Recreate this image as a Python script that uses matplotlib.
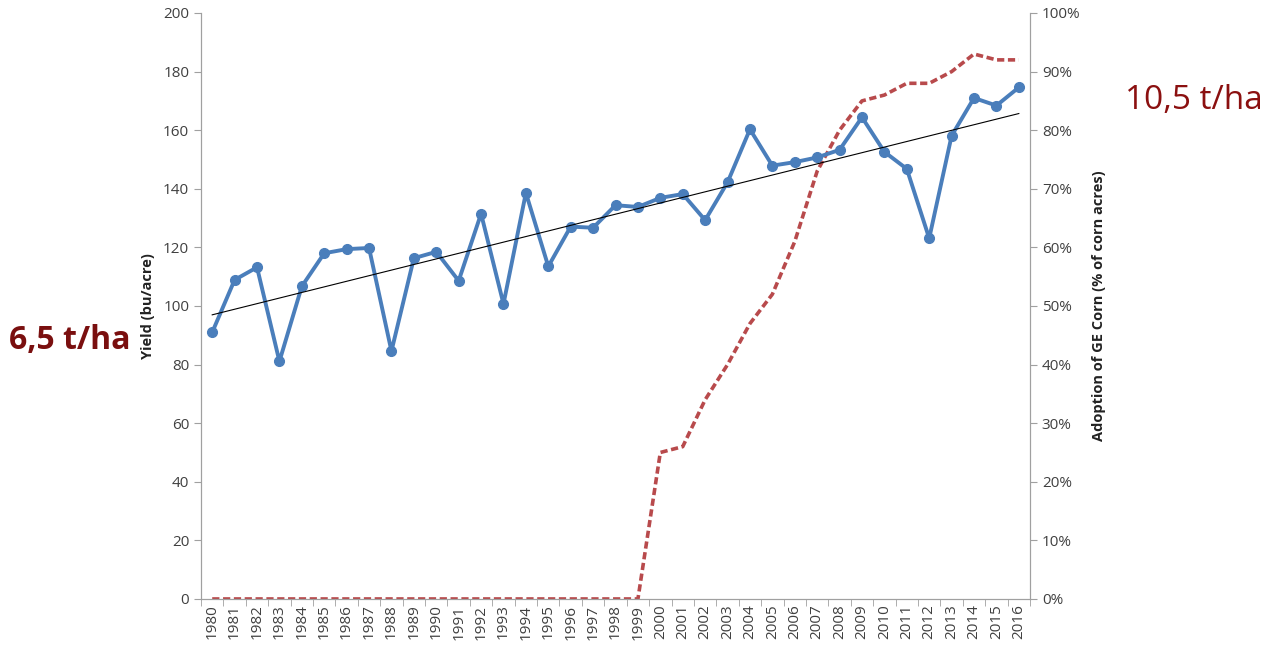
import numpy as np
import matplotlib.pyplot as plt

# data
years = [str(y) for y in range(1980, 2017)]
yield_bu = [91.0, 108.9, 113.2, 81.1, 106.7, 118.0, 119.4, 119.8, 84.6, 116.3,
            118.5, 108.6, 131.5, 100.7, 138.6, 113.5, 127.1, 126.7, 134.4, 133.8,
            136.9, 138.2, 129.3, 142.2, 160.3, 147.9, 149.1, 150.7, 153.3, 164.4,
            152.6, 146.8, 123.1, 158.1, 171.0, 168.4, 174.6]
ge_adoption = [0] * 20 + [25, 26, 34, 40, 47, 52, 61, 73, 80, 85, 86, 88, 88, 90, 93, 92, 92]

plt.rcParams['font.family'] = ['Open Sans', 'DejaVu Sans']
txt_col = '#404040'
spine_col = '#A0A0A0'

fig = plt.figure(figsize=(12.77, 6.5), dpi=100)
ax = fig.add_axes([0.1574, 0.0785, 0.6492, 0.9015])
ax2 = ax.twinx()

x = np.arange(len(years))

# GE adoption (right axis)
ax2.plot(x, ge_adoption, color='#B84A4C', lw=2.6, ls=(0, (2.0, 1.0)), zorder=2)
ax2.set_ylim(0, 100)
ax2.set_yticks(np.arange(0, 101, 10))
ax2.set_yticklabels([f'{v}%' for v in range(0, 101, 10)])

# yield (left axis) + trend
ax.set_zorder(ax2.get_zorder() + 1)
ax.patch.set_visible(False)
ax.plot(x, yield_bu, color='#4A7EBB', lw=2.8, marker='o', ms=7, zorder=3)
coef = np.polyfit(x, yield_bu, 1)
ax.plot(x, np.polyval(coef, x), color='black', lw=0.8, zorder=4)
ax.set_ylim(0, 200)
ax.set_yticks(np.arange(0, 201, 20))
ax.set_xlim(-0.5, len(years) - 0.5)
ax.set_xticks(x)
ax.set_xticklabels(years, rotation=90)
ax.set_xticks(np.arange(-0.5, len(years), 1), minor=True)
ax.tick_params(axis='x', which='major', length=0, pad=4)
ax.tick_params(axis='x', which='minor', length=5, color=spine_col, direction='out')

for a in (ax, ax2):
    a.spines['top'].set_visible(False)
    for s in ('left', 'right', 'bottom'):
        a.spines[s].set_color(spine_col)
    a.tick_params(labelsize=11, colors=txt_col)
    a.tick_params(axis='y', length=5, color=spine_col)

ax.set_ylabel('Yield (bu/acre)', fontsize=10.5, fontweight='bold', color='#222222', labelpad=6)
ax2.set_ylabel('Adoption of GE Corn (% of corn acres)', fontsize=10.5, fontweight='bold',
               color='#222222', labelpad=8)

fig.text(0.007, 0.476, '6,5 t/ha', fontsize=23, fontweight='bold', color='#7A0F0F', va='center')
fig.text(0.881, 0.845, '10,5 t/ha', fontsize=24, color='#8B1010', va='center')

fig.savefig('out.png', dpi=100)
